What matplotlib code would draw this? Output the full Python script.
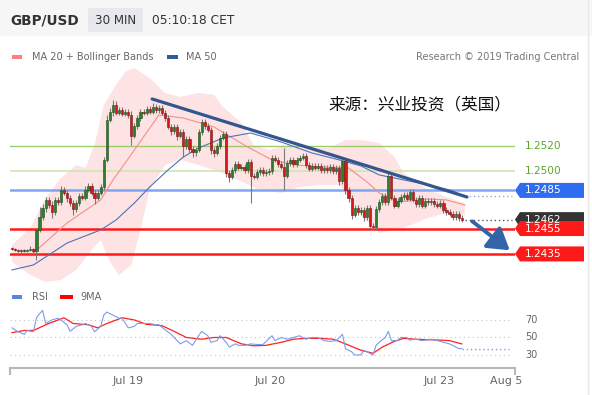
import numpy as np
import matplotlib
matplotlib.use("Agg")
import matplotlib.pyplot as plt
from matplotlib.patches import Rectangle, Polygon, FancyArrowPatch
from matplotlib import transforms

# GBP/USD 30 min candles (closes), open = previous close
first_open = 1.24395
closes = [
    1.24389, 1.24381, 1.24373, 1.24381, 1.24373, 1.24381, 1.24389, 1.24373, 1.24539, 1.24641,
    1.24712, 1.24775, 1.24735, 1.24680, 1.24775, 1.24759, 1.24854, 1.24830, 1.24791, 1.24751,
    1.24704, 1.24751, 1.24806, 1.24791, 1.24854, 1.24885, 1.24830, 1.24791, 1.24830, 1.24877,
    1.25090, 1.25405, 1.25468, 1.25523, 1.25460, 1.25483, 1.25452, 1.25468, 1.25444, 1.25279,
    1.25357, 1.25420, 1.25468, 1.25460, 1.25491, 1.25468, 1.25507, 1.25483, 1.25499, 1.25460,
    1.25420, 1.25350, 1.25318, 1.25350, 1.25279, 1.25310, 1.25200, 1.25255, 1.25177, 1.25153,
    1.25169, 1.25310, 1.25389, 1.25357, 1.25326, 1.25169, 1.25145, 1.25200, 1.25263, 1.25294,
    1.24987, 1.24956, 1.25011, 1.25058, 1.25027, 1.25035, 1.25011, 1.25074, 1.24964, 1.24956,
    1.24995, 1.25011, 1.24987, 1.24995, 1.25003, 1.25106, 1.25090, 1.25058, 1.25035, 1.24964,
    1.25066, 1.25090, 1.25058, 1.25090, 1.25106, 1.25121, 1.25050, 1.25019, 1.25043, 1.25027,
    1.25043, 1.25011, 1.25027, 1.25011, 1.25035, 1.25003, 1.25027, 1.24924, 1.25082, 1.24854,
    1.24791, 1.24657, 1.24712, 1.24680, 1.24696, 1.24641, 1.24712, 1.24570, 1.24562, 1.24704,
    1.24759, 1.24806, 1.24759, 1.24964, 1.24791, 1.24728, 1.24767, 1.24798, 1.24814, 1.24783,
    1.24838, 1.24775, 1.24743, 1.24791, 1.24728, 1.24767, 1.24759, 1.24767, 1.24743, 1.24728,
    1.24751, 1.24696, 1.24680, 1.24665, 1.24641, 1.24665, 1.24633, 1.24620,
]
# wick lengths beyond the body, in pips
upper_wick = [
    1, 1, 1, 1, 1, 1, 2, 1, 1, 8,
    3, 2, 2, 3, 2, 2, 3, 2, 2, 2,
    2, 2, 2, 2, 3, 2, 2, 2, 2, 2,
    2, 4, 3, 4, 3, 2, 2, 2, 2, 3,
    2, 2, 2, 2, 2, 2, 3, 2, 2, 2,
    2, 2, 2, 2, 2, 2, 2, 2, 2, 2,
    2, 2, 2, 2, 2, 2, 2, 2, 2, 2,
    2, 2, 2, 2, 2, 2, 2, 2, 2, 2,
    2, 2, 2, 2, 2, 2, 2, 2, 2, 15,
    2, 2, 2, 2, 2, 2, 2, 2, 2, 2,
    2, 2, 2, 2, 2, 2, 2, 2, 3, 2,
    2, 2, 2, 2, 2, 2, 2, 2, 2, 2,
    2, 2, 2, 3, 2, 2, 2, 2, 2, 2,
    2, 2, 2, 2, 2, 2, 2, 2, 2, 2,
    2, 2, 2, 2, 2, 2, 2, 2,
]
lower_wick = [
    1, 1, 1, 2, 1, 1, 1, 2, 7, 2,
    2, 3, 2, 5, 2, 2, 2, 2, 3, 2,
    5, 2, 2, 2, 2, 2, 2, 5, 2, 2,
    2, 2, 2, 3, 2, 2, 2, 2, 2, 7,
    2, 2, 2, 2, 2, 2, 2, 2, 2, 2,
    2, 2, 3, 2, 3, 2, 9, 2, 3, 4,
    3, 2, 2, 2, 2, 3, 3, 2, 2, 2,
    3, 4, 2, 2, 2, 2, 2, 2, 21, 2,
    2, 2, 2, 2, 2, 2, 2, 2, 2, 11,
    2, 2, 2, 2, 2, 2, 2, 2, 2, 2,
    2, 2, 2, 2, 2, 2, 2, 3, 2, 3,
    3, 3, 2, 2, 2, 3, 2, 2, 2, 2,
    2, 2, 2, 2, 2, 2, 2, 2, 2, 2,
    2, 2, 2, 2, 2, 2, 2, 2, 2, 2,
    2, 2, 2, 2, 2, 2, 2, 2,
]

# indicators (candle index, price)
ma20_idx = [7, 18, 29, 33, 37, 43, 48, 56, 66, 77, 85, 93, 101, 110, 116, 120, 126, 136, 142, 148]
ma20_val = [1.24357, 1.24594, 1.24775, 1.24932, 1.25066, 1.25271, 1.25444, 1.25420, 1.25350, 1.25192,
            1.25090, 1.25050, 1.25035, 1.25027, 1.24917, 1.24830, 1.24759, 1.24783, 1.24775, 1.24735]
ma50_idx = [0, 7, 18, 29, 34, 40, 45, 51, 56, 61, 69, 78, 88, 98, 107, 114, 120, 125, 136, 143, 148]
ma50_val = [1.24224, 1.24263, 1.24436, 1.24539, 1.24617, 1.24751, 1.24877, 1.25011, 1.25113, 1.25184,
            1.25263, 1.25302, 1.25231, 1.25145, 1.25090, 1.25043, 1.24972, 1.24948, 1.24893, 1.24854, 1.24806]
bb_up_idx = [0, 6, 11, 16, 21, 24, 27, 30, 34, 37, 40, 45, 50, 55, 61, 66, 69, 75, 79, 84, 91, 97,
             104, 109, 114, 120, 125, 128, 136, 142, 148]
bb_up_val = [1.24420, 1.24554, 1.24791, 1.24948, 1.25050, 1.25027, 1.25208, 1.25523, 1.25680, 1.25783,
             1.25814, 1.25735, 1.25617, 1.25586, 1.25617, 1.25602, 1.25507, 1.25381, 1.25208, 1.25169,
             1.25208, 1.25184, 1.25184, 1.25247, 1.25247, 1.25224, 1.25113, 1.24987, 1.24854, 1.24798, 1.24751]
bb_lo_idx = [0, 6, 11, 16, 21, 26, 29, 32, 35, 39, 42, 45, 50, 55, 61, 68, 75, 81, 88, 94, 101, 107,
             114, 120, 128, 136, 142, 148]
bb_lo_val = [1.24287, 1.24184, 1.24129, 1.24145, 1.24224, 1.24381, 1.24460, 1.24287, 1.24184, 1.24263,
             1.24539, 1.24854, 1.25050, 1.25090, 1.25050, 1.24995, 1.24920, 1.24854, 1.24830, 1.24877,
             1.24893, 1.24893, 1.24657, 1.24515, 1.24554, 1.24633, 1.24672, 1.24657]

trend_idx = [45.8, 148.7]
trend_val = [1.25570, 1.24798]
arrow_from = (149.7, 1.24620)
arrow_to = (163.4, 1.24365)

rsi_idx = [0, 2, 4, 5, 7, 8, 9, 10, 11, 13, 15, 16, 18, 19, 21, 23, 24, 26, 27, 29, 30, 31, 33, 35, 36,
           38, 40, 41, 43, 45, 47, 48, 50, 52, 54, 55, 57, 59, 61, 62, 64, 65, 67, 68, 70, 71, 73, 74,
           76, 78, 80, 82, 85, 86, 88, 90, 92, 94, 96, 98, 100, 102, 104, 106, 108, 109, 111, 112, 114,
           115, 116, 118, 119, 120, 122, 123, 124, 126, 127, 129, 130, 132, 134, 137, 139, 141, 143,
           144, 146, 147]
rsi_val = [61, 56.5, 53.6, 58, 56.5, 72.5, 77, 81, 66, 70, 72, 70, 64.5, 57, 62.7, 64.5, 66, 62.7, 56.5,
           62.7, 75.5, 79, 75.5, 72, 72, 61, 62.7, 66, 66, 66, 64.5, 64.5, 59, 53.6, 46.4, 42.7, 46.4,
           41, 52, 57, 52, 44.5, 46.4, 52, 44.5, 39, 42.7, 41, 41, 42.7, 42, 42, 52, 46.4, 50, 48, 50,
           52, 48, 50, 50, 46.4, 45.6, 46.4, 53.6, 37.3, 33.6, 30, 30, 35.5, 33.6, 30, 41, 44.5, 50, 57,
           46.4, 46.4, 50, 50, 47, 48, 46.4, 48, 46.4, 44.5, 42.7, 41, 37.3, 37.3]
ma9_idx = [0, 4, 7, 12, 17, 20, 25, 28, 31, 36, 40, 44, 49, 53, 57, 62, 66, 70, 75, 79, 83, 88, 92,
           96, 101, 105, 109, 114, 118, 121, 125, 128, 132, 136, 140, 143, 147]
ma9_val = [55.5, 58, 58, 66, 72.5, 66, 64.5, 61, 66, 72.5, 70, 65, 63.5, 57, 50, 48, 50, 50, 42.7,
           40.5, 41, 44.5, 48, 49, 49, 48, 42.7, 35.5, 32, 39, 45.6, 49, 48, 47.4, 47, 46.4, 42.7]

levels = [1.2520, 1.2500, 1.2485, 1.2462, 1.2455, 1.2435]
date_idx = [38, 84.5, 139.5, 161.5]
date_labels = ["Jul 19", "Jul 20", "Jul 23", "Aug 5"]

W, H = 592, 395
fig = plt.figure(figsize=(W / 100, H / 100), dpi=100)


def fx(x):
    return x / W


def fy(y):
    return 1 - y / H


# header band
fig.add_artist(Rectangle((0, fy(36)), 1, 1 - fy(36), transform=fig.transFigure,
                         facecolor="#f6f6f6", edgecolor="none", zorder=0))
fig.add_artist(Rectangle((fx(88), fy(32)), fx(55), fy(8) - fy(32), transform=fig.transFigure,
                         facecolor="#e6e8eb", edgecolor="none"))
fig.text(fx(10), fy(20), "GBP/USD", fontsize=9.8, fontweight="bold", color="#333333", va="center")
fig.text(fx(95), fy(20), "30 MIN", fontsize=8.6, color="#333333", va="center")
fig.text(fx(152), fy(20), "05:10:18 CET", fontsize=8.8, color="#333333", va="center")
fig.add_artist(plt.Line2D([fx(588), fx(588)], [0, 1], transform=fig.transFigure, color="#e8e8e8", lw=1))

# legend row
fig.add_artist(Rectangle((fx(12), fy(59)), fx(10), fy(55) - fy(59), transform=fig.transFigure,
                         facecolor="#ff8080", edgecolor="none"))
fig.text(fx(32), fy(57.5), "MA 20 + Bollinger Bands", fontsize=7, color="#666666", va="center")
fig.add_artist(Rectangle((fx(167), fy(59)), fx(11), fy(55) - fy(59), transform=fig.transFigure,
                         facecolor="#2e5c9a", edgecolor="none"))
fig.text(fx(186), fy(57.5), "MA 50", fontsize=7, color="#666666", va="center")
fig.text(fx(579), fy(57.5), "Research \u00a9 2019 Trading Central", fontsize=7, color="#777777",
         va="center", ha="right")

# main price panel
ax = fig.add_axes([fx(10), fy(290), fx(515) - fx(10), fy(62) - fy(290)])
ax.set_xlim(-0.65, 164.4)
ax.set_ylim(1.24066, 1.25861)
ax.axis("off")

band_x = bb_up_idx + bb_lo_idx[::-1]
band_y = bb_up_val + bb_lo_val[::-1]
ax.fill(band_x, band_y, color="#fde3e3", lw=0, zorder=1)

ax.axhline(1.2520, color="#9ccc6b", lw=1.0, zorder=2)
ax.axhline(1.2500, color="#cfe5b5", lw=1.2, zorder=2)
ax.axhline(1.2485, color="#7ea6f2", lw=1.8, zorder=2)
ax.axhline(1.2455, color="#ff1a1a", lw=1.8, zorder=2)
ax.axhline(1.2435, color="#ff1a1a", lw=1.8, zorder=2)

ax.plot(ma20_idx, ma20_val, color="#f4908c", lw=0.8, zorder=3)
ax.plot(ma50_idx, ma50_val, color="#4f72b8", lw=0.8, zorder=3)

c = np.array(closes)
o = np.r_[first_open, c[:-1]]
hi = np.maximum(o, c) + np.array(upper_wick) / 10000
lo = np.minimum(o, c) - np.array(lower_wick) / 10000
idx = np.arange(len(c))
up = c >= o
ax.vlines(idx, lo, hi, color="#7a7a7a", lw=0.8, zorder=4)
body = np.maximum(np.abs(c - o), 0.00004)
ax.bar(idx, body, bottom=np.minimum(o, c), width=0.72,
       color=np.where(up, "#2e7d2e", "#d81818"), edgecolor=np.where(up, "#1d4f1d", "#7a1010"),
       linewidth=0.4, zorder=5)

ax.plot(trend_idx, trend_val, color="#34568f", lw=2.3, solid_capstyle="round", zorder=6)
ax.plot([len(c), 163.4], [ma50_val[-1], ma50_val[-1]], color="#9aa9c8", lw=1, ls=(0, (1, 2)), zorder=3)
ax.plot([len(c), 163.4], [closes[-1], closes[-1]], color="#555555", lw=1, ls=(0, (1, 2)), zorder=3)
ax.add_patch(FancyArrowPatch(arrow_from, arrow_to, arrowstyle="-|>,head_length=0.8,head_width=0.5",
                             mutation_scale=16, color="#3563a8", lw=2.8, zorder=7))

ax.text(fx(328) * 0 + 1, 0, "")
fig.text(fx(328), fy(105), "来源：兴业投资（英国）", fontsize=12, color="#111111", va="center",
         family=["Noto Sans CJK SC", "DejaVu Sans"])

# price labels on the right
bt = transforms.blended_transform_factory(fig.transFigure, ax.transData)
half = 7.5 / 1.27 / 10000
box_colors = {1.2485: "#2f6df0", 1.2462: "#333333", 1.2455: "#ff1a1a", 1.2435: "#ff1a1a"}
for lv in levels:
    if lv in box_colors:
        poly = Polygon([(fx(515), lv), (fx(520), lv + half), (fx(584), lv + half),
                        (fx(584), lv - half), (fx(520), lv - half)], closed=True,
                       transform=bt, facecolor=box_colors[lv], edgecolor="none")
        fig.add_artist(poly)
        fig.text(fx(525), lv, f"{lv:.4f}", transform=bt, fontsize=7.6, color="white", va="center")
    else:
        fig.text(fx(525), lv, f"{lv:.4f}", transform=bt, fontsize=7.6, color="#5ea52e", va="center")

# RSI panel
rax = fig.add_axes([fx(10), fy(368), fx(515) - fx(10), fy(305) - fy(368)])
rax.set_xlim(-0.65, 164.4)
rax.set_ylim(15.14, 87.1)
for s in ["top", "right", "left"]:
    rax.spines[s].set_visible(False)
rax.spines["bottom"].set_color("#b8b8b8")
rax.spines["bottom"].set_linewidth(1.5)
rax.set_yticks([])
rax.set_xticks(date_idx, date_labels)
rax.tick_params(axis="x", length=0, pad=6, labelsize=8, labelcolor="#666666")
for xe in (0, 1):
    rax.plot([xe, xe], [0, -0.1], transform=rax.transAxes, color="#b8b8b8", lw=1.5, clip_on=False)
for g in (30, 50, 70):
    rax.axhline(g, color="#c4c4c4", lw=0.8, ls=(0, (1, 3)), xmax=0.995)
    fig.text(fx(525), g, str(g), transform=transforms.blended_transform_factory(fig.transFigure, rax.transData),
             fontsize=7, color="#666666", va="center")
rax.plot(ma9_idx, ma9_val, color="#ff2020", lw=0.9, zorder=3)
rax.plot(rsi_idx, rsi_val, color="#7b9cec", lw=0.8, zorder=4)
rax.plot([rsi_idx[-1], 162.5], [rsi_val[-1], rsi_val[-1]], color="#7b9cec", lw=1, ls=(0, (1, 2)))

fig.add_artist(Rectangle((fx(12), fy(299)), fx(10), fy(295) - fy(299), transform=fig.transFigure,
                         facecolor="#5b84e0", edgecolor="none"))
fig.text(fx(32), fy(297.5), "RSI", fontsize=7, color="#666666", va="center")
fig.add_artist(Rectangle((fx(60), fy(299)), fx(13), fy(295) - fy(299), transform=fig.transFigure,
                         facecolor="#ff0000", edgecolor="none"))
fig.text(fx(80), fy(297.5), "9MA", fontsize=7, color="#666666", va="center")

fig.savefig("out.png", dpi=100)
